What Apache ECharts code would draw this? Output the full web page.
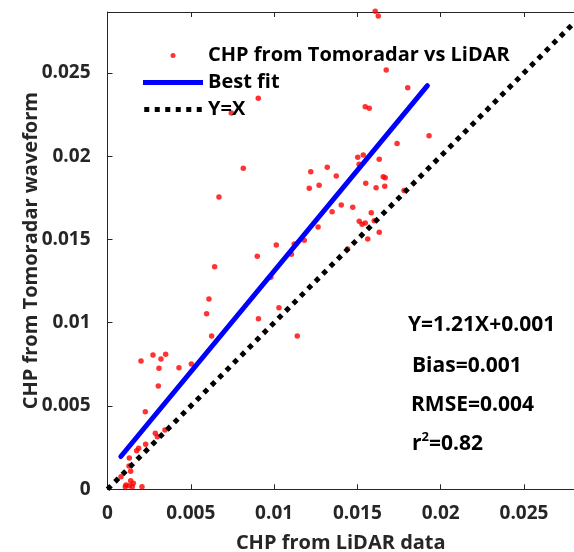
<!DOCTYPE html>
<html>
<head>
<meta charset="utf-8">
<script src="https://cdn.jsdelivr.net/npm/echarts@6/dist/echarts.min.js"></script>
<style>html,body{margin:0;padding:0;background:#fff}#c{width:574px;height:552px}</style>
</head>
<body>
<div id="c"></div>
<script>
// ---- data ----
var lidarX = [0.00905,0.00743,0.00815,0.01319,0.01607,0.01625,0.01673,0.01802,0.01547,0.01571,
  0.01930,0.01738,0.01502,0.01535,0.01510,0.01631,0.01373,0.01655,0.01667,0.01550,
  0.01612,0.01664,0.01780,0.01403,0.01472,0.01348,0.01583,0.01511,0.01528,0.01547,
  0.01601,0.01631,0.01562,0.01441,0.00669,0.01220,0.01211,0.01270,0.01264,0.01013,
  0.01121,0.01181,0.00899,0.01104,0.00643,0.00980,0.00609,0.00595,0.01029,0.00906,
  0.00625,0.01139,0.00201,0.00273,0.00321,0.00349,0.00309,0.00429,0.00503,0.00305,
  0.00227,0.00287,0.00299,0.00345,0.00229,0.00187,0.00175,0.00131,0.00129,0.00139,
  0.00081,0.00111,0.00139,0.00155,0.00131,0.00107,0.00149,0.00207];
var tomoY = [0.02347,0.02259,0.01927,0.01933,0.02869,0.02841,0.02517,0.02411,0.02297,0.02287,
  0.02122,0.02076,0.01993,0.02007,0.01951,0.01981,0.01881,0.01876,0.01870,0.01837,
  0.01810,0.01819,0.01794,0.01706,0.01693,0.01666,0.01660,0.01609,0.01591,0.01598,
  0.01612,0.01543,0.01502,0.01442,0.01754,0.01906,0.01807,0.01825,0.01574,0.01466,
  0.01472,0.01495,0.01399,0.01411,0.01336,0.01273,0.01142,0.01054,0.01090,0.01024,
  0.00920,0.00920,0.00770,0.00806,0.00782,0.00810,0.00726,0.00730,0.00752,0.00620,
  0.00466,0.00336,0.00316,0.00356,0.00270,0.00246,0.00232,0.00188,0.00140,0.00108,
  0.00076,0.00026,0.00052,0.00036,0.00022,0.00016,0.00016,0.00016];
var fitX = [0.0008, 0.0192];
var fitY = [0.00197, 0.02423];
var identX = [0, 0.028];
var identY = [0, 0.028];
var tickLabels = ['0','0.005','0.01','0.015','0.02','0.025'];
var seriesNames = ['CHP from Tomoradar vs LiDAR','Best fit','Y=X'];
var statsText = ['Y=1.21X+0.001','Bias=0.001','RMSE=0.004'];
var r2Text = '0.82';

// ---- build chart ----
var FONT = '"Open Sans", "DejaVu Sans", sans-serif';
var AX = '#262626';
function pairs(xs, ys){ return xs.map(function(x,i){ return [x, ys[i]]; }); }
function fmt(v){ var i = Math.round(v/0.005); return tickLabels[i] !== undefined && Math.abs(v - i*0.005) < 1e-9 ? tickLabels[i] : ''; }
var dotsIcon = 'path://M0 0h5v5H0z M10.5 0h5v5h-5z M21 0h5v5h-5z M31.5 0h5v5h-5z M42 0h5v5h-5z M52.5 0h5v5h-5z';

var chart = echarts.init(document.getElementById('c'), null, {renderer:'canvas'});
chart.setOption({
  animation: false,
  backgroundColor: '#fff',
  grid: {left: 107.5, right: 0, top: 12, bottom: 62.7, containLabel: false, outerBoundsMode: 'none'},
  xAxis: [{
    type: 'value', min: 0, max: 0.028, interval: 0.005,
    name: 'CHP from LiDAR data', nameLocation: 'middle', nameGap: 44, nameMoveOverlap: false,
    nameTextStyle: {fontFamily: FONT, fontWeight: 'bold', fontSize: 20, color: AX},
    axisLine: {show: true, lineStyle: {color: AX, width: 1}},
    axisTick: {show: true, inside: true, length: 5, lineStyle: {color: AX}},
    axisLabel: {show: true, margin: 15, formatter: fmt, showMaxLabel: false, alignMinLabel: 'center',
      fontFamily: FONT, fontWeight: 'bold', fontSize: 19, color: AX},
    splitLine: {show: false}
  }, {
    type: 'value', position: 'top', min: 0, max: 0.028, interval: 0.005,
    axisLine: {show: true, onZero: false, lineStyle: {color: AX, width: 1}},
    axisTick: {show: true, inside: true, length: 5, lineStyle: {color: AX}},
    axisLabel: {show: false}, splitLine: {show: false}
  }],
  yAxis: [{
    type: 'value', min: 0, max: 0.02865, interval: 0.005,
    name: 'CHP from Tomoradar waveform', nameLocation: 'middle', nameGap: 66, nameMoveOverlap: false,
    nameTextStyle: {fontFamily: FONT, fontWeight: 'bold', fontSize: 20, color: AX},
    axisLine: {show: true, lineStyle: {color: AX, width: 1}},
    axisTick: {show: true, inside: true, length: 5, lineStyle: {color: AX}},
    axisLabel: {show: true, margin: 17, formatter: fmt, showMaxLabel: false, verticalAlignMinLabel: 'middle',
      fontFamily: FONT, fontWeight: 'bold', fontSize: 19, color: AX},
    splitLine: {show: false}
  }],
  legend: {
    orient: 'vertical', left: 143, top: 45, padding: 0,
    itemWidth: 60, itemHeight: 5, itemGap: 6,
    textStyle: {fontFamily: FONT, fontWeight: 'bold', fontSize: 20, color: '#000', lineHeight: 21},
    data: [
      {name: seriesNames[0], icon: 'circle', itemStyle: {color: '#ff0000'}},
      {name: seriesNames[1], icon: 'rect', itemStyle: {color: '#0000ff'}},
      {name: seriesNames[2], icon: dotsIcon, itemStyle: {color: '#000'}}
    ]
  },
  series: [{
    name: seriesNames[0], type: 'scatter', data: pairs(lidarX, tomoY),
    symbol: 'circle', symbolSize: 5.5, clip: false,
    itemStyle: {color: '#ff0000'}, z: 2
  }, {
    name: seriesNames[1], type: 'line', data: pairs(fitX, fitY),
    symbol: 'none', lineStyle: {color: '#0000ff', width: 5, cap: 'round'},
    itemStyle: {color: '#0000ff'}, z: 3
  }, {
    name: seriesNames[2], type: 'line', data: pairs(identX, identY),
    symbol: 'none', clip: true,
    lineStyle: {color: '#000', width: 5, type: [5, 5.5], cap: 'butt'},
    itemStyle: {color: '#000'}, z: 3
  }],
  graphic: [
    {type: 'text', x: 408, y: 325, style: {text: statsText[0], font: 'bold 21px ' + FONT, fill: '#000', verticalAlign: 'middle'}},
    {type: 'text', x: 412, y: 366, style: {text: statsText[1], font: 'bold 21px ' + FONT, fill: '#000', verticalAlign: 'middle'}},
    {type: 'text', x: 411, y: 405, style: {text: statsText[2], font: 'bold 21px ' + FONT, fill: '#000', verticalAlign: 'middle'}},
    {type: 'text', x: 412, y: 443, style: {
      text: '{a|r}{s|2}{a|=' + r2Text + '}', verticalAlign: 'middle',
      rich: {
        a: {fontFamily: FONT, fontWeight: 'bold', fontSize: 21, fill: '#000', lineHeight: 24, verticalAlign: 'bottom'},
        s: {fontFamily: FONT, fontWeight: 'bold', fontSize: 13, fill: '#000', lineHeight: 24, verticalAlign: 'top'}
      }
    }}
  ]
});
</script>
</body>
</html>
